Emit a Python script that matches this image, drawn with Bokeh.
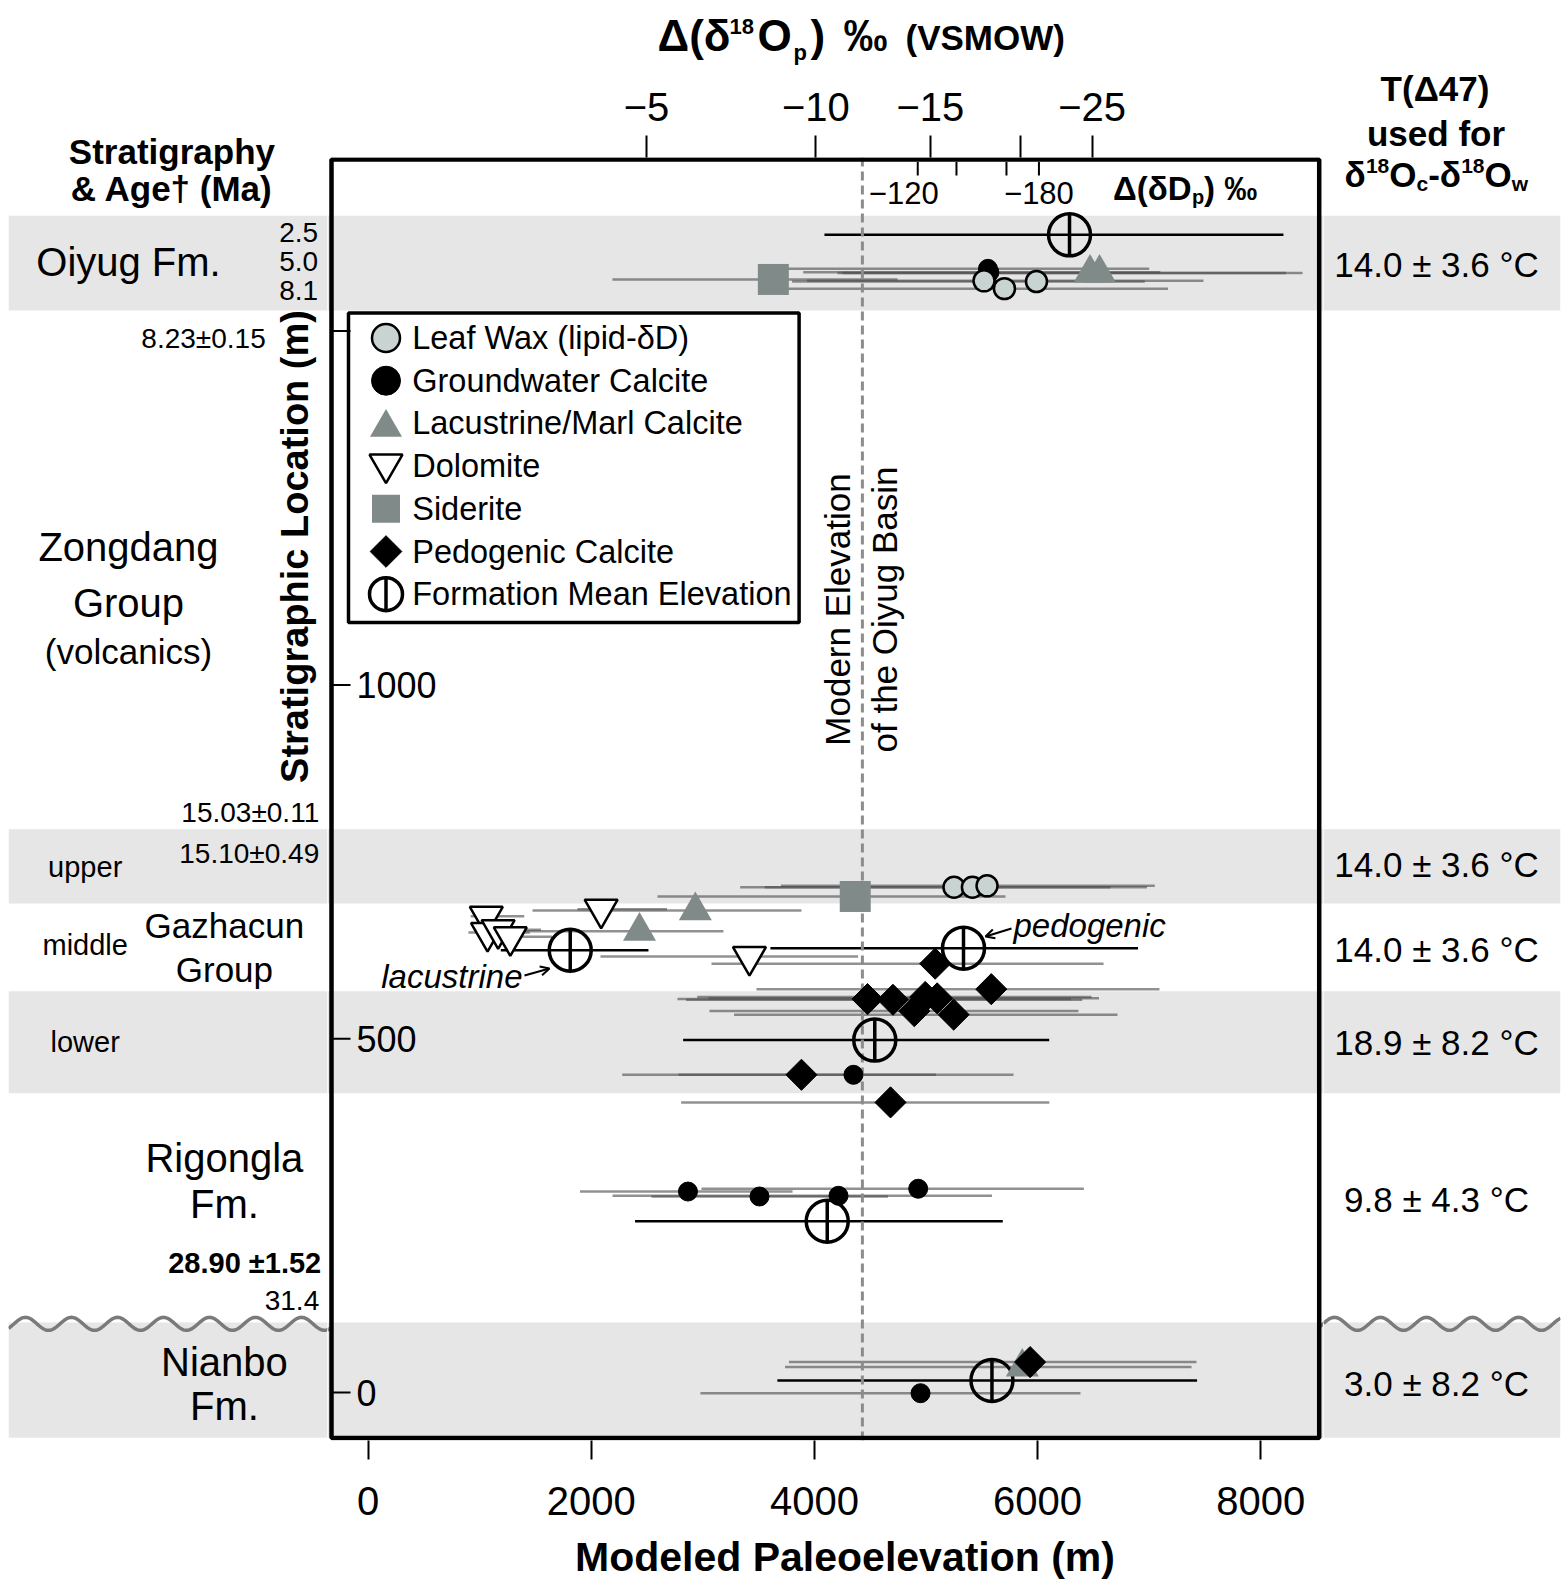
import numpy as np
from bokeh.plotting import figure
from bokeh.layouts import row, column
from bokeh.models import LinearAxis, FixedTicker, Label, Arrow, OpenHead
from bokeh.embed import file_html
from bokeh.resources import INLINE

FONT = "Liberation Sans"

# ---------------------------------------------------------------- data (m)
BAND_NAMES = ["Oiyug Fm.", "upper Gazhacun", "lower Gazhacun", "Nianbo Fm."]
BAND_BOTTOM = [1529, 691, 423, -64]
BAND_TOP = [1663, 796, 567, 99]

MODERN_ELEV = 4430
UNCONFORMITY_Y = 97

# Leaf wax (lipid-dD)
LW_X = [5520, 5703, 5990, 5251, 5416, 5547]
LW_Y = [1571, 1560, 1570, 714, 714, 716]
LW_LO = [3934, 3760, 3800, 3335, 3555, 3700]
LW_HI = [7486, 7168, 6960, 6653, 6980, 7050]

# Groundwater calcite
GW_X = [5555, 5568, 4350, 2867, 3508, 4216, 4930, 4951]
GW_Y = [1588, 1583, 449, 284, 277, 278, 288, -1]
GW_LO = [3760, 3900, 2278, 1900, 2540, 2191, 2988, 2979]
GW_HI = [7000, 7100, 5784, 3804, 4659, 5591, 6415, 6384]

# Lacustrine / marl calcite
LC_X = [6470, 6555, 2933, 2433, 5863]
LC_Y = [1582, 1582, 681, 652, 36]
LC_LO = [4207, 4252, 1474, 1284, 3737]
LC_HI = [8226, 8374, 3884, 3185, 7379]

# Dolomite
DO_X = [2089, 1060, 1071, 1166, 1275, 3418]
DO_Y = [683, 673, 650, 654, 644, 616]
DO_LO = [1877, 920, 900, 950, 1000, 2083]
DO_HI = [2679, 1400, 1450, 1550, 1650, 4392]

# Siderite
SD_X = [3632, 4366]
SD_Y = [1573, 701]
SD_LO = [2190, 2594]
SD_HI = [4745, 5712]

# Pedogenic calcite
PC_X = [5082, 4476, 4704, 4993, 5100, 4895, 5248, 5585, 3884, 4682, 5933]
PC_Y = [606, 556, 555, 559, 557, 539, 534, 570, 449, 410, 43]
PC_LO = [3078, 2773, 2850, 2950, 3050, 3060, 3280, 3481, 2782, 2806, 3772]
PC_HI = [6591, 6300, 6400, 6483, 6550, 6366, 6716, 7092, 5090, 6105, 7424]

# Formation mean elevation
FM_X = [6286, 1812, 5336, 4541, 4115, 5591]
FM_Y = [1636, 625, 628, 498, 242, 17]
FM_LO = [4090, 1190, 3606, 2824, 2393, 3668]
FM_HI = [8203, 2513, 6900, 6104, 5688, 7429]

# axes
ELEV_TICKS = [0, 2000, 4000, 6000, 8000]
D18O_TICK_ELEV = [2496, 4013, 5039, 5851, 6488]
D18O_LABELS = ["\u22125", "\u221210", "\u221215", "", "\u221225"]
DD_TICK_ELEV = [4926, 5273, 5721, 6012]
DD_LABELS = ["\u2212120", "", "", "\u2212180"]
STRAT_TICKS = [0, 500, 1000, 1500]
STRAT_LABELS = ["0", "500", "1000", ""]

# side columns
T_LABELS = ["14.0 \u00b1 3.6 \u00b0C", "14.0 \u00b1 3.6 \u00b0C", "14.0 \u00b1 3.6 \u00b0C",
            "18.9 \u00b1 8.2 \u00b0C", "9.8 \u00b1 4.3 \u00b0C", "3.0 \u00b1 8.2 \u00b0C"]
T_Y = [1594, 746, 626, 494, 273, 13]

AGE_LABELS = ["2.5", "5.0", "8.1", "8.23\u00b10.15", "15.03\u00b10.11", "15.10\u00b10.49",
              "28.90 \u00b11.52", "31.4"]
AGE_Y = [1640, 1598, 1558, 1490, 820, 762, 183, 130]
AGE_BOLD = [False, False, False, False, False, False, True, False]

UNIT_LABELS = ["Oiyug Fm.", "Zongdang", "Group", "(volcanics)", "Gazhacun", "Group",
               "Rigongla", "Fm.", "Nianbo", "Fm."]
UNIT_Y = [1597, 1195, 1116, 1047, 660, 598, 331, 267, 43, -19]
SUB_LABELS = ["upper", "middle", "lower"]
SUB_Y = [743, 632, 495]

LEG_LABELS = ["Leaf Wax (lipid-\u03b4D)", "Groundwater Calcite", "Lacustrine/Marl Calcite",
              "Dolomite", "Siderite", "Pedogenic Calcite", "Formation Mean Elevation"]

# ---------------------------------------------------------------- layout
SX = 0.1116   # px per m, horizontal
SY = 0.7076   # px per m, vertical
PX0 = 367.5   # page x of 0 m elevation
PY0 = 1392.0  # page y of 0 m stratigraphic level


def X(px):
    return (px - PX0) / SX


def Y(py):
    return (PY0 - py) / SY


PAGE_W, PAGE_H = 1564, 1581
L_EDGE, C_L, C_R, R_EDGE = 8, 327, 1323, 1560
T_H, B_H = 80, 55
C_TOP, C_BOT = 157, 1440
BOX_L, BOX_R, BOX_T, BOX_B = X(331), X(1318.7), Y(159), Y(1437.5)


def make_fig(w, h, px_l, px_r, py_t, py_b, bl=0, br=0, bt=0, bb=0):
    f = figure(width=w, height=h, x_range=(X(px_l), X(px_r)), y_range=(Y(py_b), Y(py_t)),
               x_axis_type=None, y_axis_type=None, toolbar_location=None,
               output_backend="svg", min_border_left=bl, min_border_right=br,
               min_border_top=bt, min_border_bottom=bb)
    f.outline_line_color = None
    f.background_fill_color = "white"
    f.border_fill_color = "white"
    return f


pL = make_fig(C_L, PAGE_H, L_EDGE, C_L, 0, PAGE_H, bl=L_EDGE)
pT = make_fig(C_R - C_L, T_H, C_L, C_R, 0, T_H)
pC = make_fig(C_R - C_L, PAGE_H - T_H - B_H, C_L, C_R, C_TOP, C_BOT,
              bt=C_TOP - T_H, bb=PAGE_H - B_H - C_BOT)
pB = make_fig(C_R - C_L, B_H, C_L, C_R, PAGE_H - B_H, PAGE_H)
pR = make_fig(PAGE_W - C_R, PAGE_H, C_R, R_EDGE, 0, PAGE_H, br=PAGE_W - R_EDGE)


def style_axis(ax, tick_out, standoff):
    ax.axis_line_color = None
    ax.major_tick_out = tick_out
    ax.major_tick_in = 0
    ax.minor_tick_out = 0
    ax.minor_tick_in = 0
    ax.major_tick_line_color = "black"
    ax.major_tick_line_width = 2
    ax.major_label_text_font = FONT
    ax.major_label_text_font_size = "40px"
    ax.major_label_text_color = "black"
    ax.major_label_standoff = standoff


xb = LinearAxis(ticker=FixedTicker(ticks=ELEV_TICKS))
style_axis(xb, 19, 27)
pC.add_layout(xb, "below")

xt = LinearAxis(ticker=FixedTicker(ticks=D18O_TICK_ELEV),
                major_label_overrides={t: l for t, l in zip(D18O_TICK_ELEV, D18O_LABELS)})
style_axis(xt, 22, 15)
pC.add_layout(xt, "above")


def put(f, text, x, y, size, style="normal", align="center", baseline="middle", angle=0.0):
    f.add_layout(Label(x=x, y=y, text=text, text_font=FONT, text_font_size=f"{size}px",
                       text_font_style=style, text_align=align, text_baseline=baseline,
                       angle=angle, text_color="black"))


# bands + unconformity in the three full-height panels
WAVE_LEN = 46 / SX
WAVE_AMP = 6.5 / SY


def wave(f, x0, x1, phase):
    xs = np.linspace(x0, x1, 300)
    ys = UNCONFORMITY_Y + WAVE_AMP * np.cos(2 * np.pi * (xs - phase) / WAVE_LEN)
    f.line(xs, ys, line_color="#7a7a7a", line_width=3.5)


for f, a, b in [(pL, L_EDGE, C_L), (pC, C_L, C_R), (pR, C_R, R_EDGE)]:
    f.quad(left=X(a), right=X(b), bottom=BAND_BOTTOM, top=BAND_TOP,
           fill_color="#e6e6e6", line_color=None)
wave(pL, X(L_EDGE), X(C_L), X(25))
wave(pC, X(C_L), BOX_L, X(25))
wave(pC, BOX_R, X(C_R), X(1380))
wave(pR, X(C_R), X(R_EDGE), X(1380))

# ---------------------------------------------------------------- central panel
p = pC
GRAY_BAR = dict(line_color="#4d4d4d", line_alpha=0.62, line_width=2.5)
for lo, hi, yy in [(LW_LO, LW_HI, LW_Y), (GW_LO, GW_HI, GW_Y), (LC_LO, LC_HI, LC_Y),
                   (DO_LO, DO_HI, DO_Y), (SD_LO, SD_HI, SD_Y), (PC_LO, PC_HI, PC_Y)]:
    p.segment(x0=lo, y0=yy, x1=hi, y1=yy, **GRAY_BAR)
p.segment(x0=FM_LO, y0=FM_Y, x1=FM_HI, y1=FM_Y, line_color="black", line_width=2.5)

p.segment(x0=[MODERN_ELEV], y0=[Y(C_BOT)], x1=[MODERN_ELEV], y1=[Y(C_TOP)],
          line_color="#8c8c8c", line_width=3, line_dash="9 5")

GRAY = "#808a88"
ST_LW = dict(marker="circle", size=21, fill_color="#c9d3d2", line_color="black", line_width=2.5)
ST_GW = dict(marker="circle", size=19, fill_color="black", line_color="black", line_width=1)
ST_LC = dict(marker="triangle", size=33, fill_color=GRAY, line_color=None)
ST_DO = dict(marker="inverted_triangle", size=33, fill_color="white", line_color="black", line_width=2.5)
ST_SD = dict(marker="square", size=31, fill_color=GRAY, line_color=None)
ST_PC = dict(marker="square", angle=np.pi / 4, size=22, fill_color="black", line_color="black", line_width=1)
ST_FM = dict(marker="circle", size=42, fill_color=None, line_color="black", line_width=3.5)
ST_FMV = dict(marker="dash", angle=np.pi / 2, size=42, line_color="black", line_width=3.5)

p.scatter(FM_X, FM_Y, **ST_FM)
p.scatter(FM_X, FM_Y, **ST_FMV)
p.scatter(SD_X, SD_Y, **ST_SD)
p.scatter(LC_X, LC_Y, **ST_LC)
p.scatter(DO_X, DO_Y, **ST_DO)
p.scatter(GW_X, GW_Y, **ST_GW)
p.scatter(LW_X, LW_Y, **ST_LW)
p.scatter(PC_X, PC_Y, **ST_PC)

# legend (hand-built so swatch sizes match)
p.quad(left=[X(348)], right=[X(798.6)], top=[Y(312.6)], bottom=[Y(622)],
       fill_color="white", line_color="black", line_width=3.5)
LEG_STYLES = [(ST_LW, 28, 0), (ST_GW, 29, 0), (ST_LC, 32, 4), (ST_DO, 33, -2),
              (ST_SD, 28, 0), (ST_PC, 22.4, 0), (ST_FM, 33, 0)]
for i, (lab, (st, sz, off)) in enumerate(zip(LEG_LABELS, LEG_STYLES)):
    py = 337.5 + i * 42.7
    s = dict(st)
    s["size"] = sz
    p.scatter([X(385.5)], [Y(py + off)], **s)
    if st is ST_FM:
        s2 = dict(ST_FMV)
        s2["size"] = sz
        p.scatter([X(385.5)], [Y(py)], **s2)
    put(p, lab, X(411.7), Y(py), 32.5, align="left")

# frame box
p.quad(left=[BOX_L], right=[BOX_R], top=[BOX_T], bottom=[BOX_B],
       fill_color=None, line_color="black", line_width=4.5)

# inner stratigraphic axis (left) and dD axis (top)
p.segment(x0=BOX_L, y0=STRAT_TICKS, x1=X(350), y1=STRAT_TICKS, line_color="black", line_width=2)
for t, lab in zip(STRAT_TICKS, STRAT_LABELS):
    if lab:
        put(p, lab, X(356), t, 36, align="left")

p.segment(x0=DD_TICK_ELEV, y0=Y(161.5), x1=DD_TICK_ELEV, y1=Y(175), line_color="black", line_width=2)
DD_LABEL_OFFSET_PX = [-14, 0, 0, 0]
for t, lab, off in zip(DD_TICK_ELEV, DD_LABELS, DD_LABEL_OFFSET_PX):
    if lab:
        put(p, lab, t + off / SX, Y(192), 31)

# advance widths (Arial-like, per 1000 em) for composed bold labels
WB = {"\u03b4": 611, "1": 556, "8": 556, "O": 778, "c": 556, "-": 333, "w": 778, "\u0394": 722,
      "(": 333, ")": 333, "p": 611, "D": 722, " ": 278, "\u2030": 1000, "V": 667, "S": 667,
      "M": 833, "W": 944}


def runs(f, pieces, x_px, center_py):
    """Lay out bold text pieces left to right; dy shifts a piece from the line's centre."""
    x = x_px
    for text, size, dy in pieces:
        put(f, text, X(x), Y(center_py + dy), size, style="bold", align="left")
        x += sum(WB.get(c, 556) for c in text) * size / 1000.0


runs(p, [("\u0394(\u03b4D", 33, 0), ("p", 20, 8), (") \u2030", 33, 0)], 1112.6, 188)

put(p, "Modern Elevation", X(837), Y(609), 35, baseline="alphabetic", angle=np.pi / 2)
put(p, "of the Oiyug Basin", X(884), Y(609), 35, baseline="alphabetic", angle=np.pi / 2)

put(p, "pedogenic", X(1013), Y(924.7), 33, style="italic", align="left")
put(p, "lacustrine", X(522), Y(976), 33, style="italic", align="right")
for xs_, ys_, xe_, ye_ in [(1011, 928, 985, 936), (524, 975, 549, 968)]:
    p.add_layout(Arrow(end=OpenHead(size=9, line_width=2, line_color="black"),
                       x_start=X(xs_), y_start=Y(ys_), x_end=X(xe_), y_end=Y(ye_),
                       line_color="black", line_width=2))

# ---------------------------------------------------------------- title strip (top)
for text, xp, cy, sz in [("\u0394(\u03b4", 657, 35, 44), ("18", 729, 25.5, 22), ("O", 757, 35, 44),
                         ("p", 793, 51.5, 22), (")", 810, 35, 44), ("\u2030", 843, 35, 44),
                         ("(VSMOW)", 905, 37, 35)]:
    put(pT, text, X(xp), Y(cy), sz, style="bold", align="left")

# ---------------------------------------------------------------- axis title strip (bottom)
put(pB, "Modeled Paleoelevation (m)", X(844.5), Y(1556.5), 41, style="bold")

# ---------------------------------------------------------------- right column
put(pR, "T(\u039447)", X(1434.5), Y(88), 35, style="bold")
put(pR, "used for", X(1435.5), Y(132.5), 35, style="bold")
runs(pR, [("\u03b4", 35, 0), ("18", 21, -8), ("O", 35, 0), ("c", 21, 9.5),
          ("-\u03b4", 35, 0), ("18", 21, -8), ("O", 35, 0), ("w", 21, 9.5)], 1344, 173.5)
for lab, yy in zip(T_LABELS, T_Y):
    put(pR, lab, X(1436), yy, 35)

# ---------------------------------------------------------------- left column
put(pL, "Stratigraphy", X(171.4), Y(151.3), 35, style="bold")
put(pL, "& Age\u2020 (Ma)", X(171.4), Y(187.6), 35, style="bold")
put(pL, "Stratigraphic Location (m)", X(294.5), Y(546), 38, style="bold", angle=np.pi / 2)
AGE_RIGHT_PX = [317.6, 317.6, 317.6, 265.2, 318.7, 318.7, 320.7, 318.7]
for lab, yy, b, rp in zip(AGE_LABELS, AGE_Y, AGE_BOLD, AGE_RIGHT_PX):
    put(pL, lab, X(rp), yy, 29 if b else 28, style="bold" if b else "normal", align="right")
UNIT_X_PX = [128, 128, 128, 128, 223.9, 223.9, 223.9, 223.9, 223.9, 223.9]
UNIT_SIZE = [40, 40, 40, 35, 35, 35, 40, 40, 40, 40]
for lab, yy, xp, sz in zip(UNIT_LABELS, UNIT_Y, UNIT_X_PX, UNIT_SIZE):
    put(pL, lab, X(xp), yy, sz)
for lab, yy in zip(SUB_LABELS, SUB_Y):
    put(pL, lab, X(84.7), yy, 29)

layout = row(pL, column(pT, pC, pB, spacing=0), pR, spacing=0)
open("out.html", "w").write(file_html(layout, INLINE))
